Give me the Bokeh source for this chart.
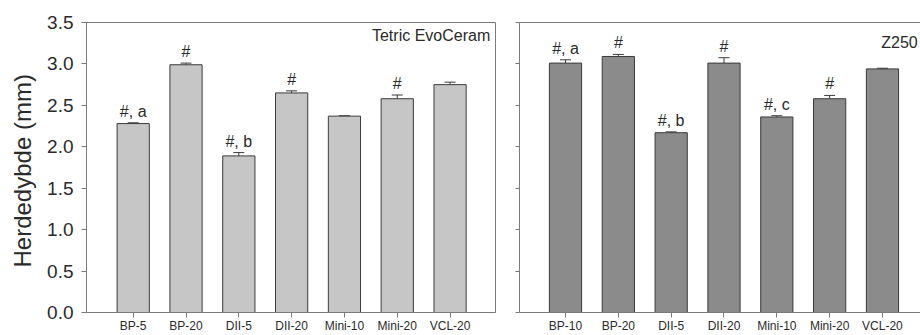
from bokeh.plotting import figure
from bokeh.models import (ColumnDataSource, FixedTicker, Whisker, TeeHead, Label,
                          LinearAxis, Range1d, CustomJSTickFormatter)
from bokeh.layouts import row
from bokeh.embed import file_html
from bokeh.resources import INLINE
from bokeh.core.properties import value

# ---- data ----
left_title = "Tetric EvoCeram"
left_cats = ["BP-5", "BP-20", "DII-5", "DII-20", "Mini-10", "Mini-20", "VCL-20"]
left_vals = [2.28, 2.99, 1.89, 2.65, 2.37, 2.58, 2.75]
left_errs = [0.01, 0.02, 0.04, 0.025, 0.005, 0.045, 0.03]
left_marks = ["#, a", "#", "#, b", "#", "", "#", ""]

right_title = "Z250"
right_cats = ["BP-10", "BP-20", "DII-5", "DII-20", "Mini-10", "Mini-20", "VCL-20"]
right_vals = [3.01, 3.09, 2.17, 3.01, 2.36, 2.58, 2.94]
right_errs = [0.04, 0.025, 0.01, 0.065, 0.015, 0.04, 0.008]
right_marks = ["#, a", "#", "#, b", "#", "#, c", "#", ""]

y_ticks = [0.0, 0.5, 1.0, 1.5, 2.0, 2.5, 3.0, 3.5]
y_label = "Herdedybde  (mm)"

FONT = "Liberation Sans"
AXIS_COL = "#7a7a7a"
TEXT_COL = "#2a2a2a"


def make_panel(cats, vals, errs, marks, title, fill, xr, width, left_border,
               show_labels, title_x, title_y):
    idx = list(range(len(cats)))
    src = ColumnDataSource(dict(
        x=idx, top=vals, up=[v + e for v, e in zip(vals, errs)]))
    keep = [i for i, m in enumerate(marks) if m]
    msrc = ColumnDataSource(dict(
        x=[idx[i] for i in keep],
        y=[vals[i] + errs[i] for i in keep],
        mark=[marks[i] for i in keep]))
    p = figure(width=width, height=335, x_range=Range1d(*xr),
               y_range=Range1d(0, 3.5), output_backend="svg",
               toolbar_location=None, min_border_left=left_border,
               min_border_right=12 if show_labels else 0,
               min_border_top=22, min_border_bottom=10)
    p.grid.visible = False
    p.background_fill_color = "white"
    p.border_fill_color = "white"

    p.vbar(x="x", top="top", width=0.61, bottom=0, source=src,
           fill_color=fill, line_color="#3a3a3a", line_width=1)
    w = Whisker(base="x", lower="top", upper="up", source=src,
                line_color="#3a3a3a", line_width=1,
                upper_head=TeeHead(size=11, line_color="#3a3a3a", line_width=1),
                lower_head=None)
    p.add_layout(w)
    p.text(x="x", y="y", text="mark", source=msrc, text_align="center",
           text_baseline="bottom", y_offset=-3, text_font=value(FONT),
           text_font_size="16px", text_color=TEXT_COL)

    # x axis
    xa = p.xaxis[0]
    xa.ticker = FixedTicker(ticks=idx)
    xa.major_label_overrides = {i: c for i, c in zip(idx, cats)}
    xa.major_label_text_font = FONT
    xa.major_label_text_font_size = "12px"
    xa.major_label_text_color = TEXT_COL
    xa.major_tick_in = 0
    xa.major_tick_out = 5
    xa.minor_tick_line_color = None
    xa.axis_line_color = AXIS_COL
    xa.major_tick_line_color = AXIS_COL
    xa.major_label_standoff = 1

    # y axis
    ya = p.yaxis[0]
    ya.ticker = FixedTicker(ticks=y_ticks)
    ya.minor_tick_line_color = None
    ya.axis_line_color = AXIS_COL
    ya.major_tick_line_color = AXIS_COL
    ya.major_tick_in = 0
    if show_labels:
        ya.formatter = CustomJSTickFormatter(code="return tick.toFixed(1);")
        ya.major_tick_out = 5
        ya.major_label_text_font = FONT
        ya.major_label_text_font_size = "19px"
        ya.major_label_text_color = TEXT_COL
        ya.major_label_standoff = 8
        ya.axis_label = y_label
        ya.axis_label_text_font = FONT
        ya.axis_label_text_font_size = "24px"
        ya.axis_label_text_font_style = "normal"
        ya.axis_label_text_color = TEXT_COL
        ya.axis_label_standoff = 8
        p.outline_line_color = AXIS_COL
    else:
        ya.formatter = CustomJSTickFormatter(code="return '';")
        ya.major_tick_out = 4
        ya.major_label_standoff = 0
        p.outline_line_color = None
        top = LinearAxis(ticker=FixedTicker(ticks=[]), axis_line_color=AXIS_COL,
                         formatter=CustomJSTickFormatter(code="return '';"),
                         major_tick_line_color=None, minor_tick_line_color=None)
        p.add_layout(top, "above")

    p.add_layout(Label(x=title_x, y=title_y, text=title, text_align="right",
                       text_baseline="middle", text_font=FONT,
                       text_font_size="16px", text_color=TEXT_COL))
    return p


left = make_panel(left_cats, left_vals, left_errs, left_marks, left_title,
                  "#c6c6c6", (-0.884, 6.86), 507, 86, True, 6.76, 3.345)
right = make_panel(right_cats, right_vals, right_errs, right_marks, right_title,
                   "#8b8b8b", (-0.871, 6.72), 413, 12, False, 6.667, 3.26)

layout = row(left, right)
open("out.html", "w").write(file_html(layout, INLINE))
